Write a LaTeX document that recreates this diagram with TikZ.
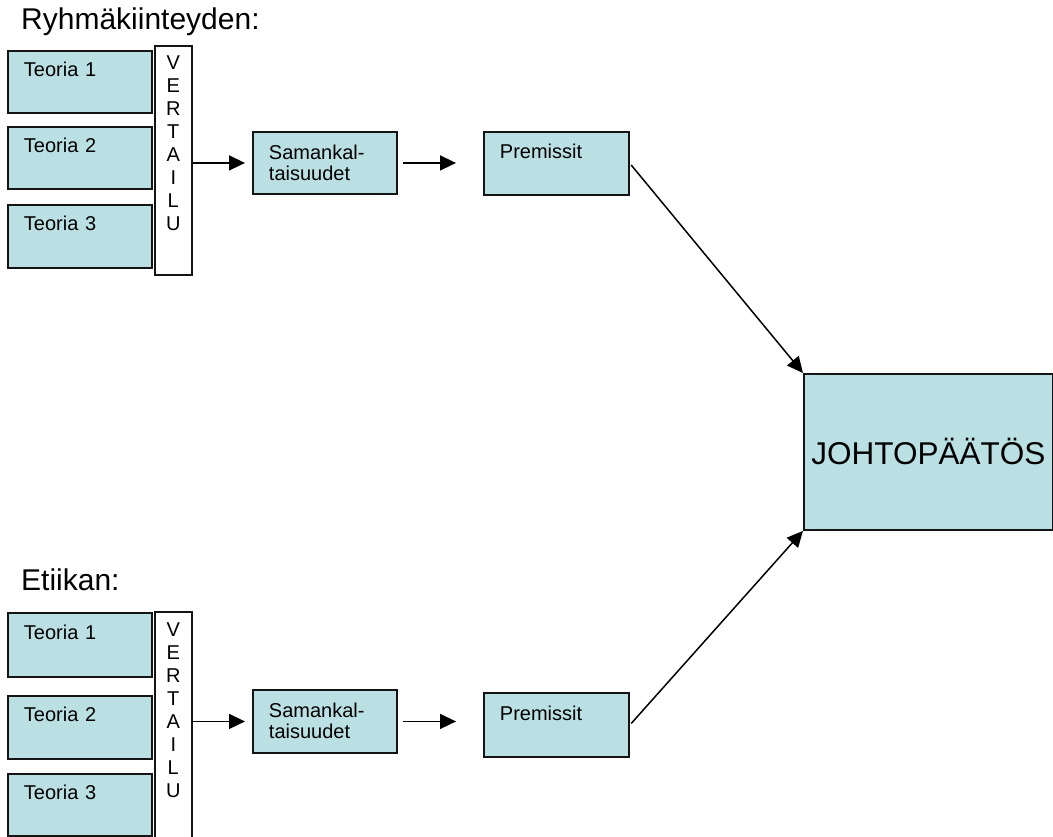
\documentclass[tikz,border=0pt]{standalone}
\usepackage{fontspec}
\setmainfont{Liberation Sans}
\usetikzlibrary{arrows.meta}
\definecolor{boxfill}{RGB}{187,224,227}
\definecolor{edge}{RGB}{20,20,20}
\begin{document}
\begin{tikzpicture}[x=1pt,y=-1pt,
  box/.style={draw=edge, line width=1.9pt, fill=boxfill, anchor=north west,
    inner ysep=0pt, inner xsep=16pt, align=left, text width=112pt,
    font=\fontsize{20}{21}\selectfont},
  vbar/.style={draw=edge, line width=1.6pt, fill=white, anchor=north west,
    inner sep=0pt, align=center, text width=37pt,
    font=\fontsize{20}{23}\selectfont},
  bigbox/.style={draw=edge, line width=1.9pt, fill=boxfill, anchor=north west,
    inner sep=0pt, minimum width=249pt, minimum height=156pt,
    font=\fontsize{31.5}{33}\selectfont},
  title/.style={anchor=base west, inner sep=0pt, font=\fontsize{30}{32}\selectfont},
  arr/.style={draw=black, line width=1.5pt, -{Triangle[length=16pt,width=15pt]}}
]
\useasboundingbox (0,0) rectangle (1053,837);

% titles
\node[title] (h1) at (21,30) {Ryhmäkiinteyden:};
\node[title] (h2) at (21,590) {Etiikan:};

% top group
\node[box, text height=26pt, text depth=36pt] (a1) at (7,50) {Teoria 1};
\node[box, text height=26pt, text depth=36pt] (a2) at (7,126) {Teoria 2};
\node[box, text height=26pt, text depth=37pt] (a3) at (7,204) {Teoria 3};
\node[vbar, text height=24pt, text depth=205pt] (v1) at (154,45) {V\\E\\R\\T\\A\\I\\L\\U};
\node[box, text height=28pt, text depth=34pt] (s1) at (252,131) {Samankal-\\taisuudet};
\node[box, text height=27pt, text depth=36pt, text width=113pt] (p1) at (483,131) {Premissit};

% bottom group
\node[box, text height=27pt, text depth=37pt] (b1) at (7,612) {Teoria 1};
\node[box, text height=26pt, text depth=37pt] (b2) at (7,695) {Teoria 2};
\node[box, text height=26pt, text depth=36pt] (b3) at (7,773) {Teoria 3};
\node[vbar, text height=24.5pt, text depth=215pt] (v2) at (154,611) {V\\E\\R\\T\\A\\I\\L\\U};
\node[box, text height=28pt, text depth=35pt] (s2) at (252,689) {Samankal-\\taisuudet};
\node[box, text height=28pt, text depth=36pt, text width=113pt] (p2) at (483,692) {Premissit};

% conclusion
\node[bigbox] (j) at (803,373) {JOHTOPÄÄTÖS};

% connectors
\draw[arr, shorten >=7pt] (v1.east |- s1.west) -- (s1.west);
\draw[arr, shorten <=5pt, shorten >=27pt] (s1.east) -- (p1.west |- s1.east);
\draw[arr, shorten <=2pt] (p1.east) -- (j.north west);

\draw[arr, shorten >=7pt] (v2.east |- s2.west) -- (s2.west);
\draw[arr, shorten <=5pt, shorten >=27pt] (s2.east) -- (p2.west |- s2.east);
\draw[arr, shorten <=2pt] (p2.east) -- (j.south west);
\end{tikzpicture}
\end{document}
